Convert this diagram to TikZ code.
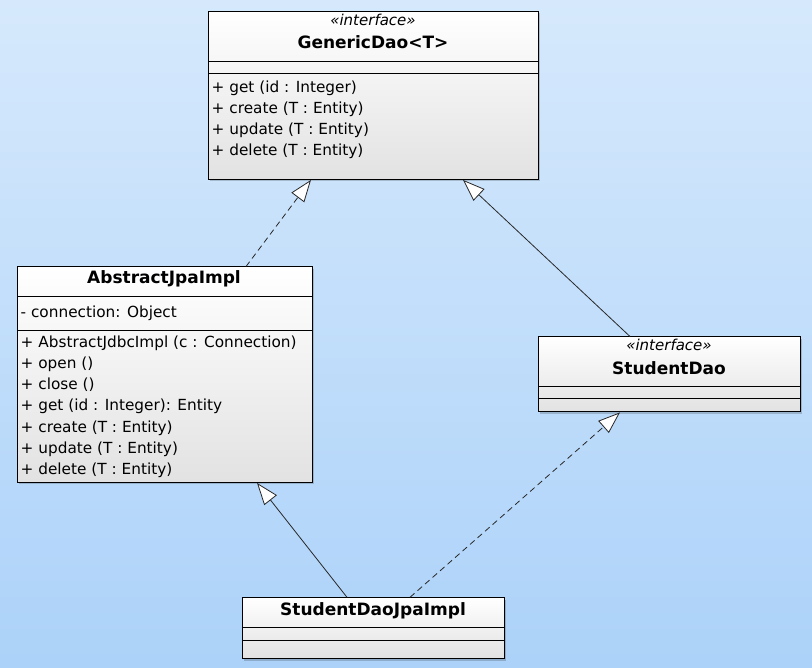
\documentclass[tikz,border=0pt]{standalone}
\usepackage{fontspec}
\setmainfont{DejaVu Sans}
\usetikzlibrary{arrows.meta,shadows}
\definecolor{bgtop}{RGB}{214,233,252}
\definecolor{bgbot}{RGB}{172,210,249}
\definecolor{boxbot}{RGB}{226,226,226}
\definecolor{linecol}{RGB}{40,40,40}
\begin{document}
\begin{tikzpicture}[x=1pt,y=-1pt,
  classbox/.style={draw=black, line width=0.9pt, inner sep=0pt, anchor=north west,
    top color=white, bottom color=boxbot,
    drop shadow={shadow xshift=2pt, shadow yshift=-2pt, opacity=0.18, fill=black}},
  member/.style={anchor=base west, inner sep=0pt, font=\fontsize{15.3}{18}\selectfont},
  cname/.style={anchor=base, inner sep=0pt, font=\fontsize{17}{20}\selectfont\bfseries},
  stereo/.style={anchor=base, inner sep=0pt, font=\fontsize{15}{18}\selectfont\itshape},
  sepline/.style={line width=0.9pt},
  inh/.style={draw=linecol, line width=0.8pt, -{Triangle[open, length=22pt, width=16pt, fill=white]}},
  realiz/.style={inh, dash pattern=on 6pt off 4pt}
]
\fill[top color=bgtop, bottom color=bgbot] (0,0) rectangle (812,668);
\useasboundingbox (0,0) rectangle (812,668);

% GenericDao<T>
\node[classbox, minimum width=330pt, minimum height=168pt] (gd) at (208,11) {};
\draw[sepline] ([yshift=-50.5pt]gd.north west) -- ([yshift=-50.5pt]gd.north east);
\draw[sepline] ([yshift=-62pt]gd.north west) -- ([yshift=-62pt]gd.north east);
\node[stereo] (gds) at (373,25.5) {«interface»};
\node[cname] (gdn) at (373,48.3) {GenericDao<T>};
\node[member] (gdm1) at (211.5,92.3) {+ get (id : Integer)};
\node[member] (gdm2) at (211.5,113.5) {+ create (T : Entity)};
\node[member] (gdm3) at (211.5,134.7) {+ update (T : Entity)};
\node[member] (gdm4) at (211.5,155.9) {+ delete (T : Entity)};

% AbstractJpaImpl
\node[classbox, minimum width=294.5pt, minimum height=215.5pt] (abs) at (17,266.5) {};
\draw[sepline] ([yshift=-29.5pt]abs.north west) -- ([yshift=-29.5pt]abs.north east);
\draw[sepline] ([yshift=-64pt]abs.north west) -- ([yshift=-64pt]abs.north east);
\node[cname] (absn) at (164,284) {AbstractJpaImpl};
\node[member] (absa1) at (20.5,317.3) {- connection: Object};
\node[member] (absm1) at (20.5,347.3) {+ AbstractJdbcImpl (c : Connection)};
\node[member] (absm2) at (20.5,368.5) {+ open ()};
\node[member] (absm3) at (20.5,389.7) {+ close ()};
\node[member] (absm4) at (20.5,410.9) {+ get (id : Integer): Entity};
\node[member] (absm5) at (20.5,432.1) {+ create (T : Entity)};
\node[member] (absm6) at (20.5,453.3) {+ update (T : Entity)};
\node[member] (absm7) at (20.5,474.5) {+ delete (T : Entity)};

% StudentDao
\node[classbox, minimum width=262pt, minimum height=75pt] (sd) at (538,336.5) {};
\draw[sepline] ([yshift=-50pt]sd.north west) -- ([yshift=-50pt]sd.north east);
\draw[sepline] ([yshift=-61.8pt]sd.north west) -- ([yshift=-61.8pt]sd.north east);
\node[stereo] (sds) at (669,350.7) {«interface»};
\node[cname] (sdn) at (669,374.3) {StudentDao};

% StudentDaoJpaImpl
\node[classbox, minimum width=262pt, minimum height=61pt] (impl) at (242,597.3) {};
\draw[sepline] ([yshift=-30pt]impl.north west) -- ([yshift=-30pt]impl.north east);
\draw[sepline] ([yshift=-42.7pt]impl.north west) -- ([yshift=-42.7pt]impl.north east);
\node[cname] (impln) at (373,615.7) {StudentDaoJpaImpl};

% connectors
\draw[realiz] ([xshift=229pt]abs.north west) -- ([xshift=103pt]gd.south west);
\draw[inh] ([xshift=92pt]sd.north west) -- ([xshift=255pt]gd.south west);
\draw[inh] ([xshift=105pt]impl.north west) -- ([xshift=240pt]abs.south west);
\draw[realiz] ([xshift=168pt]impl.north west) -- ([xshift=82pt]sd.south west);
\end{tikzpicture}
\end{document}
